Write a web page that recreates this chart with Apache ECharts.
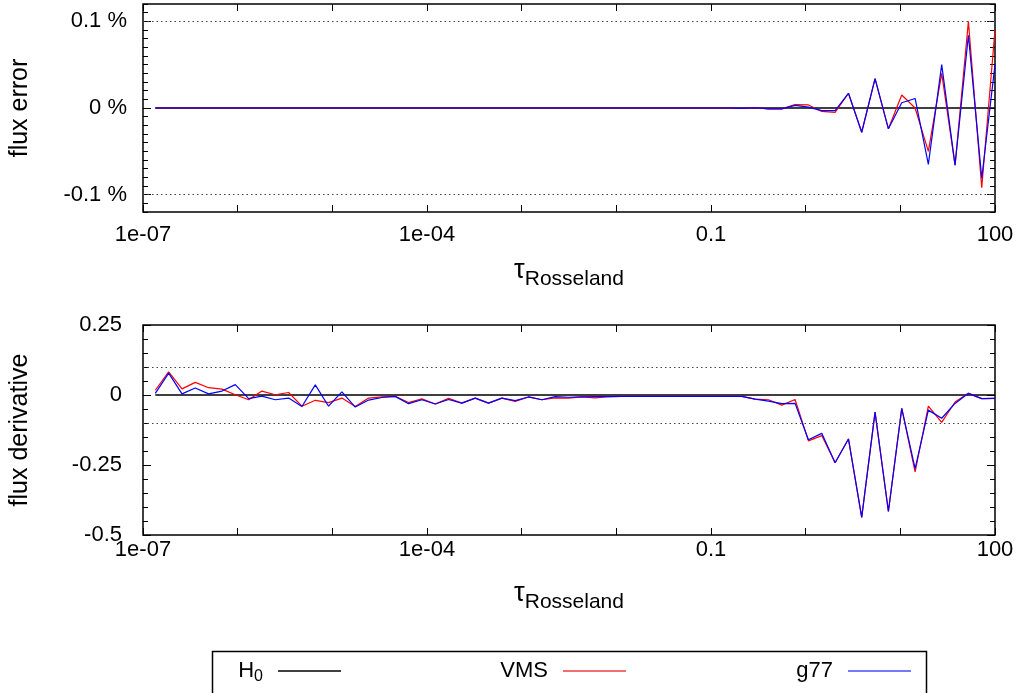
<!DOCTYPE html>
<html>
<head>
<meta charset="utf-8">
<script src="https://cdn.jsdelivr.net/npm/echarts@6/dist/echarts.min.js"></script>
<style>
html,body{margin:0;padding:0;background:#fff;}
#chart{width:1019px;height:693px;}
</style>
</head>
<body>
<div id="chart"></div>
<script>
// log10 of tau_Rosseland sample points
const logTau = [-6.870,-6.729,-6.588,-6.448,-6.307,-6.166,-6.025,-5.884,-5.744,-5.603,
  -5.462,-5.321,-5.180,-5.040,-4.899,-4.758,-4.617,-4.476,-4.336,-4.195,
  -4.054,-3.913,-3.772,-3.632,-3.491,-3.350,-3.209,-3.068,-2.928,-2.787,
  -2.646,-2.505,-2.364,-2.224,-2.083,-1.942,-1.801,-1.660,-1.520,-1.379,
  -1.238,-1.097,-0.956,-0.816,-0.675,-0.534,-0.393,-0.252,-0.112,0.029,
  0.170,0.311,0.452,0.592,0.733,0.874,1.015,1.156,1.296,1.437,
  1.578,1.719,1.860,2.000];

// flux error (%)
const errH0 = [0,0,0,0,0,0,0,0,0,0, 0,0,0,0,0,0,0,0,0,0, 0,0,0,0,0,0,0,0,0,0,
  0,0,0,0,0,0,0,0,0,0, 0,0,0,0,0,0,0,0,0,0, 0,0,0,0,0,0,0,0,0,0, 0,0,0,0];
const errVMS = [0,0,0,0,0,0,0,0,0,0, 0,0,0,0,0,0,0,0,0,0, 0,0,0,0,0,0,0,0,0,0,
  0,0,0,0,0,0,0,0,0,0, 0,0,0,0,-0.0005,0.0003,-0.001,
  -0.001,0.004,0.0035,-0.004,-0.005,0.017,-0.028,0.034,-0.024,0.015,0.000,-0.050,0.040,-0.066,0.100,-0.092,0.090];
const errG77 = [0,0,0,0,0,0,0,0,0,0, 0,0,0,0,0,0,0,0,0,0, 0,0,0,0,0,0,0,0,0,0,
  0,0,0,0,0,0,0,0,0,0, 0,0,0,0,-0.0005,0.0003,-0.001,
  -0.001,0.003,0.001,-0.003,-0.003,0.017,-0.028,0.034,-0.024,0.006,0.011,-0.065,0.050,-0.066,0.084,-0.081,0.050];

// flux derivative
const derH0 = errH0;
const derVMS = [0.017,0.083,0.022,0.045,0.026,0.021,0.001,-0.017,0.014,0.001,
  0.009,-0.040,-0.019,-0.027,-0.011,-0.041,-0.011,-0.007,-0.005,-0.027,
  -0.014,-0.032,-0.012,-0.029,-0.011,-0.029,-0.011,-0.023,-0.007,-0.017,
  -0.010,-0.011,-0.007,-0.010,-0.006,-0.005,-0.005,-0.005,-0.005,-0.005,
  -0.005,-0.005,-0.005,-0.005,-0.005,-0.015,-0.017,-0.036,-0.016,-0.164,
  -0.145,-0.242,-0.157,-0.437,-0.061,-0.416,-0.048,-0.275,-0.040,-0.098,
  -0.025,0.006,-0.013,-0.012];
const derG77 = [0.006,0.078,0.004,0.025,0.004,0.014,0.037,-0.013,-0.004,-0.017,
  -0.011,-0.041,0.036,-0.040,0.011,-0.043,-0.018,-0.009,-0.005,-0.031,
  -0.017,-0.032,-0.016,-0.029,-0.011,-0.029,-0.011,-0.020,-0.007,-0.017,
  -0.006,-0.008,-0.007,-0.006,-0.006,-0.005,-0.005,-0.005,-0.005,-0.005,
  -0.005,-0.005,-0.005,-0.005,-0.005,-0.015,-0.022,-0.031,-0.030,-0.160,
  -0.137,-0.242,-0.157,-0.437,-0.061,-0.416,-0.048,-0.263,-0.054,-0.083,
  -0.030,0.006,-0.013,-0.012];

// ticks
const xMajorTicks = [1e-7,1e-6,1e-5,1e-4,1e-3,1e-2,0.1,1,10,100];
const xLabelValues = [1e-7,1e-4,0.1,100];
const xLabelTexts = ['1e-07','1e-04','0.1','100'];
const errTickValues = [-0.1,0,0.1];
const errTickTexts = ['-0.1 %','0 %','0.1 %'];
const derTickValues = [-0.5,-0.25,0,0.25];
const derTickTexts = ['-0.5','-0.25','0','0.25'];
const seriesNames = ['H0','VMS','g77'];
const seriesColors = ['#000000','#ff0000','#0000ff'];
const legendColors = ['#404040','#f07070','#7878ff'];

const FONT = '"Liberation Sans", Arial, Helvetica, sans-serif';
const tau = logTau.map(v => Math.pow(10, v));
const pairs = arr => arr.map((v, i) => [tau[i], v]);

function xFmt(val) {
  const idx = xLabelValues.findIndex(v => Math.abs(Math.log10(v) - Math.log10(val)) < 0.01);
  return idx >= 0 ? xLabelTexts[idx] : '';
}
function mkFmt(vals, texts) {
  return function (val) {
    const idx = vals.findIndex(v => Math.abs(v - val) < 1e-9);
    return idx >= 0 ? texts[idx] : '';
  };
}

function xAxes(grid, labelMargin) {
  const common = {
    gridIndex: grid, type: 'log', logBase: 10, min: 1e-7, max: 100,
    axisLine: {show: false, onZero: false}, splitLine: {show: false}, minorTick: {show: false}
  };
  return [
    Object.assign({}, common, {
      position: 'bottom',
      axisTick: {show: true, inside: true, length: 7, customValues: xMajorTicks, lineStyle: {color: '#000', width: 1}},
      axisLabel: {show: true, customValues: xLabelValues, formatter: xFmt, margin: labelMargin,
        fontSize: 22, color: '#000', fontFamily: FONT},
      name: '{t|\u03c4}{r|Rosseland}', nameLocation: 'middle', nameGap: 45,
      nameTextStyle: {fontFamily: FONT, color: '#000', rich: {
        t: {fontSize: 27, fontFamily: FONT, color: '#000', padding: [0, 0, 6, 0]},
        r: {fontSize: 21, fontFamily: FONT, color: '#000', padding: [12, 0, 0, 0]}
      }}
    }),
    Object.assign({}, common, {
      position: 'top',
      axisTick: {show: true, inside: true, length: 7, customValues: xMajorTicks, lineStyle: {color: '#000', width: 1}},
      axisLabel: {show: false}
    })
  ];
}

function yAxes(grid, min, max, vals, texts, minorInt, labelMargin, name) {
  const common = {gridIndex: grid, type: 'value', min: min, max: max,
    axisLine: {show: false, onZero: false}, splitLine: {show: false}};
  const major = {show: true, inside: true, length: 8, customValues: vals, lineStyle: {color: '#000', width: 1}};
  const minor = {show: true, inside: true, length: 5, lineStyle: {color: '#000', width: 1}};
  return [
    Object.assign({}, common, {position: 'left', axisTick: major,
      axisLabel: {show: true, customValues: vals, formatter: mkFmt(vals, texts), margin: labelMargin,
        fontSize: 22, color: '#000', fontFamily: FONT},
      name: name, nameLocation: 'middle', nameGap: 110,
      nameTextStyle: {fontSize: 25, color: '#000', fontFamily: FONT}}),
    Object.assign({}, common, {position: 'left', interval: minorInt, axisTick: minor, axisLabel: {show: false}}),
    Object.assign({}, common, {position: 'right', axisTick: major, axisLabel: {show: false}}),
    Object.assign({}, common, {position: 'right', interval: minorInt, axisTick: minor, axisLabel: {show: false}})
  ];
}

const dotted = {
  silent: true, symbol: ['none', 'none'], label: {show: false},
  lineStyle: {type: [1.5, 3], color: '#444', width: 1},
  emphasis: {disabled: true},
  data: [{yAxis: 0.1}, {yAxis: -0.1}]
};

function panelSeries(xi, yi, h0, vms, g77) {
  const datas = [h0, vms, g77];
  return datas.map((d, k) => {
    const s = {
      name: seriesNames[k], type: 'line', xAxisIndex: xi, yAxisIndex: yi,
      data: pairs(d), symbol: 'none', showSymbol: false,
      lineStyle: {color: seriesColors[k], width: k === 0 ? 1.6 : 1.2}, itemStyle: {color: seriesColors[k]},
      emphasis: {disabled: true}, z: 2 + k
    };
    if (k === 0) s.markLine = dotted;
    return s;
  });
}

function legendFor(k, right) {
  return {
    data: [{name: seriesNames[k], icon: 'rect', itemStyle: {color: legendColors[k]}}],
    right: right, top: 660, orient: 'horizontal', align: 'right',
    padding: 0, itemWidth: 63, itemHeight: 2, selectedMode: false,
    formatter: function (n) {
      return n === 'H0' ? '{t|H}{s|0}{g| }' : '{t|' + n + '}{g| }';
    },
    textStyle: {fontFamily: FONT, color: '#000', rich: {
      t: {fontSize: 22, fontFamily: FONT, color: '#000'},
      s: {fontSize: 16, fontFamily: FONT, color: '#000', padding: [12, 0, 0, 0]},
      g: {width: 10, fontSize: 10}
    }}
  };
}

const chart = echarts.init(document.getElementById('chart'), null, {renderer: 'canvas'});
chart.setOption({
  animation: false,
  backgroundColor: '#fff',
  grid: [
    {left: 140, top: 4, width: 855, height: 208, show: true, borderColor: '#000', borderWidth: 1.5, backgroundColor: 'transparent'},
    {left: 140, top: 325, width: 855, height: 210, show: true, borderColor: '#000', borderWidth: 1.5, backgroundColor: 'transparent'}
  ],
  xAxis: xAxes(0, 12).concat(xAxes(1, 4)),
  yAxis: yAxes(0, -0.12, 0.12, errTickValues, errTickTexts, 0.01, 16, 'flux error')
    .concat(yAxes(1, -0.5, 0.25, derTickValues, derTickTexts, 0.05, 21, 'flux derivative')),
  legend: [legendFor(0, 678), legendFor(1, 393), legendFor(2, 108)],
  graphic: [{type: 'rect', left: 210, top: 649, shape: {width: 714, height: 60},
    style: {fill: 'none', stroke: '#000', lineWidth: 1.5}, silent: true}],
  series: panelSeries(0, 0, errH0, errVMS, errG77).concat(panelSeries(2, 4, derH0, derVMS, derG77))
});
</script>
</body>
</html>
